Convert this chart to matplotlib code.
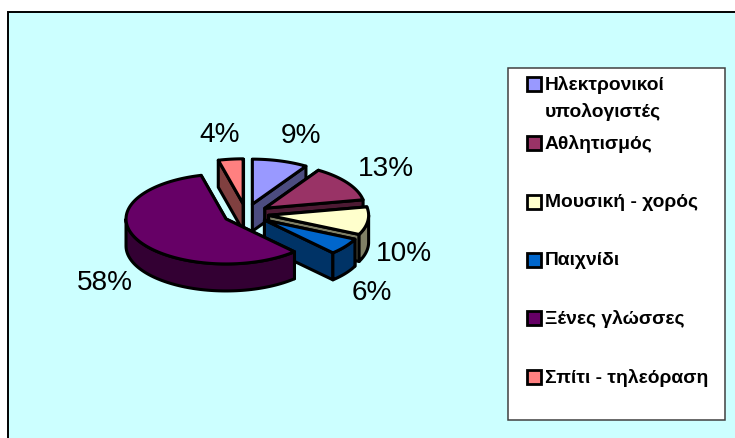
import numpy as np
import matplotlib
matplotlib.use('Agg')
import matplotlib.pyplot as plt
from matplotlib.patches import Polygon, Rectangle

# Data
labels = ['Ηλεκτρονικοί\nυπολογιστές', 'Αθλητισμός', 'Μουσική - χορός',
          'Παιχνίδι', 'Ξένες γλώσσες', 'Σπίτι - τηλεόραση']
values = [9, 13, 10, 6, 58, 4]
top_colors = ['#9999FF', '#993366', '#FFFFCC', '#0066CC', '#660066', '#FF8080']
side_colors = ['#4C4C80', '#4D1A33', '#808066', '#003366', '#330033', '#804040']

# Layout, in pixels
label_xy = [(301, 136), (386, 169), (404, 254), (372, 293), (105, 283), (220, 135)]
legend_y = [85, 144, 203, 261, 319, 378]
cx, cy = 246, 215
rx, ry = 100, 45
depth = 27
explode = 0.228

fig = plt.figure(figsize=(7.35, 4.39), dpi=100)
ax = fig.add_axes([0, 0, 1, 1])
ax.set_xlim(0, 735)
ax.set_ylim(439, 0)
ax.axis('off')

# Background
ax.add_patch(Rectangle((8, 13), 740, 440, fc='#CCFFFF', ec='black', lw=1.4))

def rim(deg, x0, y0):
    t = np.radians(deg)
    return x0 + rx * np.sin(t), y0 - ry * np.cos(t)

def poly(pts, color):
    ax.add_patch(Polygon(pts, closed=True, fc=color, ec='black', lw=2.2,
                         joinstyle='round'))

# Slices go clockwise from 12 o'clock
edges = np.cumsum([0] + values) / sum(values) * 360

for i in [5, 0, 1, 2, 3, 4]:
    a, b = edges[i], edges[i + 1]
    mid = np.radians((a + b) / 2)
    x0 = cx + explode * rx * np.sin(mid)
    y0 = cy - explode * ry * np.cos(mid)

    # cut faces
    for ang in (a, b):
        px, py = rim(ang, x0, y0)
        poly([(x0, y0), (px, py), (px, py + depth), (x0, y0 + depth)], side_colors[i])

    # outer wall, front part only
    lo, hi = max(a, 90), min(b, 270)
    if lo < hi:
        th = np.linspace(lo, hi, 80)
        px, py = rim(th, x0, y0)
        wall = list(zip(px, py)) + list(zip(px[::-1], py[::-1] + depth))
        poly(wall, side_colors[i])

    # top face
    th = np.linspace(a, b, 120)
    px, py = rim(th, x0, y0)
    poly([(x0, y0)] + list(zip(px, py)), top_colors[i])

for v, (x, y) in zip(values, label_xy):
    ax.text(x, y, '%d%%' % v, fontsize=20.2, family='Liberation Sans',
            ha='center', va='center', color='black')

# Legend
ax.add_patch(Rectangle((508.5, 69), 216.5, 352, fc='white', ec='#404040', lw=1.1))
for lab, y, c in zip(labels, legend_y, top_colors):
    ax.add_patch(Rectangle((527, y - 7), 14, 14, fc=c, ec='black', lw=2))
    parts = lab.split('\n')
    ax.text(545, y, parts[0], fontsize=13.9, family='Liberation Sans',
            fontweight='bold', ha='left', va='center', color='black')
    if len(parts) > 1:
        ax.text(545, y + 27, parts[1], fontsize=13.9, family='Liberation Sans',
                fontweight='bold', ha='left', va='center', color='black')

fig.savefig('out.png', dpi=100, facecolor='white')
